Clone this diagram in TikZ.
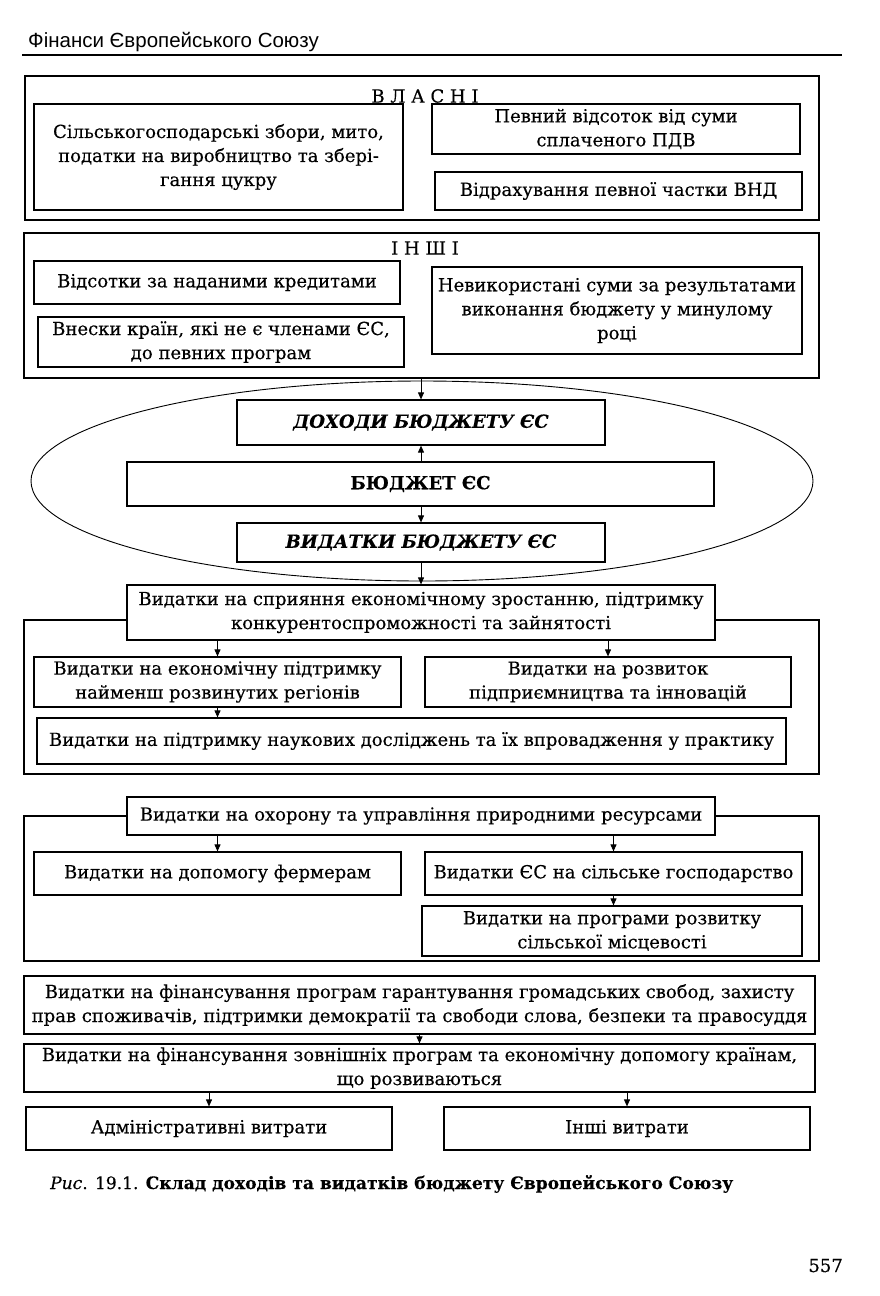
\documentclass[tikz,border=0pt]{standalone}
\usepackage{fontspec}
\setmainfont{DejaVu Serif}[FakeBold=0.3]
\newfontfamily\hdrfont{Liberation Sans}
\usetikzlibrary{arrows.meta,shapes.geometric}
\newcommand\bodyfs{\fontsize{18}{24}\selectfont}
\begin{document}
\begin{tikzpicture}[x=1pt,y=-1pt,
  box/.style={draw, line width=1.2pt, fill=white, inner sep=0pt, align=center, font=\bodyfs},
  framebox/.style={draw, line width=1.2pt, inner sep=0pt},
  arr/.style={-{Triangle[length=7pt,width=6pt]}, line width=0.9pt},
  title/.style={font=\bodyfs, inner sep=0pt}
 ]
\useasboundingbox (0,0) rectangle (880,1296);
% header
\node[anchor=base west, inner sep=0pt, font=\hdrfont\fontsize{20.5}{24}\selectfont] (hdr) at (28,47) {Фінанси Європейського Союзу};
\draw[line width=2.5pt] (22,55) -- (842,55);
% ВЛАСНІ
\node[framebox, minimum width=794pt, minimum height=144pt] (own) at (422,148) {};
\node[title] (ownt) at (425,96) {В Л А С Н І};
\node[box, minimum width=369pt, minimum height=106pt] (v1) at (218.5,157) {Сільськогосподарські збори, мито,\\ податки на виробництво та збері-\\ гання цукру};
\node[box, minimum width=368pt, minimum height=50pt] (v2) at (616,129) {Певний відсоток від суми\\ сплаченого ПДВ};
\node[box, minimum width=367pt, minimum height=38pt] (v3) at (618.5,191) {Відрахування певної частки ВНД};
% ІНШІ
\node[framebox, minimum width=795pt, minimum height=145pt] (oth) at (421.5,305.5) {};
\node[title] (otht) at (425,248) {І Н Ш І};
\node[box, minimum width=366pt, minimum height=43pt] (i1) at (217,282.5) {Відсотки за наданими кредитами};
\node[box, minimum width=366pt, minimum height=50pt] (i2) at (221,342) {Внески країн, які не є членами ЄС,\\ до певних програм};
\node[box, minimum width=370pt, minimum height=87pt] (i3) at (617,310.5) {Невикористані суми за результатами\\ виконання бюджету у минулому\\ році};
% ellipse
\node[draw, ellipse, line width=0.9pt, minimum width=782pt, minimum height=200pt, inner sep=0pt] (ell) at (422,481) {};
\node[box, minimum width=368pt, minimum height=45pt, font=\bodyfs\bfseries\itshape] (inc) at (421,422.5) {ДОХОДИ БЮДЖЕТУ ЄС};
\node[box, minimum width=587pt, minimum height=44pt, font=\bodyfs\bfseries] (bud) at (420.5,484) {БЮДЖЕТ ЄС};
\node[box, minimum width=368pt, minimum height=39pt, font=\bodyfs\bfseries\itshape] (exp) at (421,542.5) {ВИДАТКИ БЮДЖЕТУ ЄС};
% section 1
\node[framebox, minimum width=795pt, minimum height=154pt] (sec1) at (421.5,697) {};
\node[box, minimum width=588pt, minimum height=55pt] (s1) at (421,612.5) {Видатки на сприяння економічному зростанню, підтримку\\ конкурентоспроможності та зайнятості};
\node[box, minimum width=367pt, minimum height=50pt] (a) at (217.5,682) {Видатки на економічну підтримку\\ найменш розвинутих регіонів};
\node[box, minimum width=366pt, minimum height=50pt] (b) at (608,682) {Видатки на розвиток\\ підприємництва та інновацій};
\node[box, minimum width=749pt, minimum height=46pt] (c) at (411.5,741) {Видатки на підтримку наукових досліджень та їх впровадження у практику};
% section 2
\node[framebox, minimum width=795pt, minimum height=145pt] (sec2) at (421.5,888.5) {};
\node[box, minimum width=588pt, minimum height=38pt] (n) at (421,816) {Видатки на охорону та управління природними ресурсами};
\node[box, minimum width=367pt, minimum height=43pt] (d) at (217.5,873.5) {Видатки на допомогу фермерам};
\node[box, minimum width=377pt, minimum height=43pt] (e) at (613.5,873.5) {Видатки ЄС на сільське господарство};
\node[box, minimum width=380pt, minimum height=50pt] (f) at (612,931) {Видатки на програми розвитку\\ сільської місцевості};
% section 3
\node[box, minimum width=791pt, minimum height=58pt] (g) at (419.5,1005) {Видатки на фінансування програм гарантування громадських свобод, захисту\\ прав споживачів, підтримки демократії та свободи слова, безпеки та правосуддя};
\node[box, minimum width=791pt, minimum height=48pt] (h) at (419.5,1068) {Видатки на фінансування зовнішніх програм та економічну допомогу країнам,\\ що розвиваються};
\node[box, minimum width=366pt, minimum height=43pt] (ii) at (209,1128.5) {Адміністративні витрати};
\node[box, minimum width=366pt, minimum height=43pt] (jj) at (627,1128.5) {Інші витрати};
% arrows
\draw[arr] (oth.south -| inc.north) -- (inc.north);
\draw[arr] (bud.north -| inc.south) -- (inc.south);
\draw[arr] (bud.south -| exp.north) -- (exp.north);
\draw[arr] (exp.south) -- (exp.south |- s1.north);
\draw[arr] (s1.south -| a.north) -- (a.north);
\draw[arr] (s1.south -| b.north) -- (b.north);
\draw[arr] (a.south) -- (a.south |- c.north);
\draw[arr] (n.south -| d.north) -- (d.north);
\draw[arr] (n.south -| e.north) -- (e.north);
\draw[arr] (e.south) -- (e.south |- f.north);
\draw[arr] (g.south) -- (g.south |- h.north);
\draw[arr] (h.south -| ii.north) -- (ii.north);
\draw[arr] (h.south -| jj.north) -- (jj.north);
% caption and page number
\node[anchor=base west, inner sep=0pt, font=\fontsize{17.1}{22}\selectfont] (cap) at (50,1189) {\textit{Рис}. 19.1. \textbf{Склад доходів та видатків бюджету Європейського Союзу}};
\node[anchor=base east, inner sep=0pt, font=\fontsize{18}{22}\selectfont] (pg) at (843,1272) {557};
\end{tikzpicture}
\end{document}
